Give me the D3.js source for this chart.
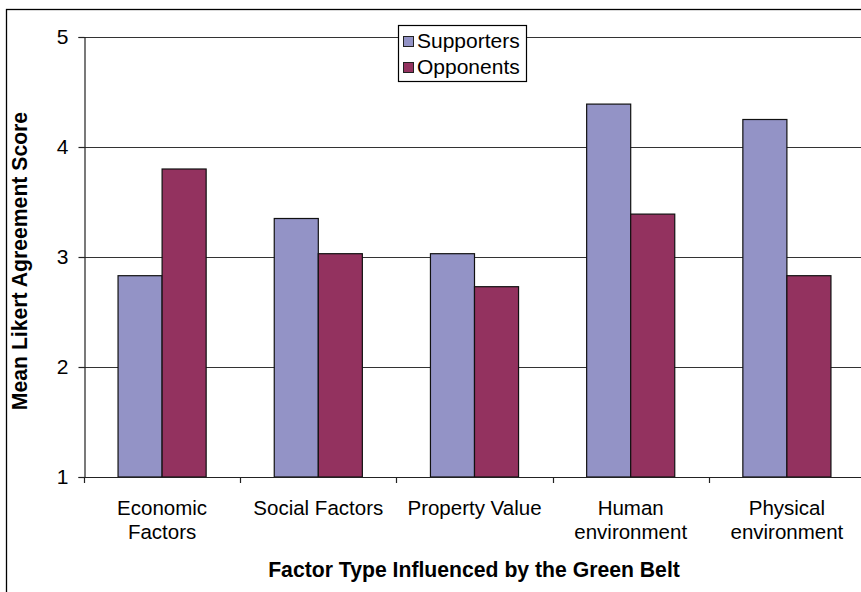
<!DOCTYPE html>
<html>
<head>
<meta charset="utf-8">
<script src="https://cdn.jsdelivr.net/npm/d3@7"></script>
<style>
  html, body { margin: 0; padding: 0; background: #fff; }
  svg { display: block; font-family: Arial, "Liberation Sans", sans-serif; }
</style>
</head>
<body>
<svg id="chart" width="861" height="592"></svg>
<script>
// Factor categories (x axis) and the two groups' mean scores
const categories = [["Economic", "Factors"], ["Social Factors"], ["Property Value"], ["Human", "environment"], ["Physical", "environment"]];
const supporters = [2.83, 3.35, 3.03, 4.39, 4.25];
const opponents  = [3.80, 3.03, 2.73, 3.39, 2.83];
const seriesNames = ["Supporters", "Opponents"];
const seriesColors = ["#9393C6", "#93325F"];
const yTicks = [1, 2, 3, 4, 5];

const svg = d3.select("#chart");
const margin = { left: 84, right: -4, top: 37, bottom: 115 };
const W = 861, H = 592;
const x0 = margin.left, x1 = W - margin.right;
const yTop = margin.top, yBot = H - margin.bottom;
const FONT = "Arial, 'Liberation Sans', sans-serif";

// Outer chart border
svg.append("rect")
  .attr("x", 6.5).attr("y", 9.5)
  .attr("width", W + 10).attr("height", H + 10)
  .attr("fill", "none").attr("stroke", "#000").attr("stroke-width", 1.3);

const x = d3.scaleBand().domain(d3.range(categories.length)).range([x0, x1]).padding(0);
const y = d3.scaleLinear().domain([1, 5]).range([yBot, yTop]);
const inner = d3.scaleBand().domain([0, 1]).range([0, x.bandwidth()]).paddingInner(0).paddingOuter(0.773);

// Horizontal gridlines
svg.append("g").selectAll("line")
  .data(yTicks.filter(v => v > 1))
  .join("line")
  .attr("x1", x0).attr("x2", x1)
  .attr("y1", d => Math.round(y(d)) + 0.5).attr("y2", d => Math.round(y(d)) + 0.5)
  .attr("stroke", "#333").attr("stroke-width", 1.2);

// Bars
const data = categories.map((c, i) => [supporters[i], opponents[i]]);
const groups = svg.append("g").selectAll("g")
  .data(data).join("g")
  .attr("transform", (d, i) => `translate(${x(i)},0)`);
groups.selectAll("rect")
  .data(d => d.map((v, s) => ({ v, s })))
  .join("rect")
  .attr("x", d => inner(d.s))
  .attr("width", inner.bandwidth())
  .attr("y", d => y(d.v))
  .attr("height", d => y(1) - y(d.v))
  .attr("fill", d => seriesColors[d.s])
  .attr("stroke", "#111").attr("stroke-width", 1.2);

// Y axis
const yAxis = d3.axisLeft(y).tickValues(yTicks).tickFormat(d3.format("d")).tickSize(6).tickPadding(10);
const gy = svg.append("g").attr("transform", `translate(${x0 + 0.5},0)`).call(yAxis);
gy.attr("font-size", null).attr("font-family", null);
gy.select(".domain").attr("stroke", "#222").attr("stroke-width", 1.2);
gy.selectAll(".tick line").attr("stroke", "#222").attr("stroke-width", 1.2);
gy.selectAll(".tick text").style("font-size", "21px").attr("fill", "#000").style("font-family", FONT);

// X axis baseline with ticks between categories
const xTickPos = d3.range(categories.length + 1).map(i => x0 + i * x.bandwidth());
svg.append("line")
  .attr("x1", x0).attr("x2", x1)
  .attr("y1", yBot + 0.5).attr("y2", yBot + 0.5)
  .attr("stroke", "#222").attr("stroke-width", 1.2);
svg.append("g").selectAll("line")
  .data(xTickPos).join("line")
  .attr("x1", d => Math.round(d) + 0.5).attr("x2", d => Math.round(d) + 0.5)
  .attr("y1", yBot).attr("y2", yBot + 6)
  .attr("stroke", "#222").attr("stroke-width", 1.2);

// Category labels
const labels = svg.append("g").selectAll("text")
  .data(categories).join("text")
  .attr("x", (d, i) => x(i) + x.bandwidth() / 2)
  .attr("y", 515)
  .attr("text-anchor", "middle")
  .style("font-size", "20.5px").attr("fill", "#000");
labels.selectAll("tspan")
  .data(d => d).join("tspan")
  .attr("x", function () { return d3.select(this.parentNode).attr("x"); })
  .attr("dy", (d, i) => i === 0 ? 0 : 24)
  .text(d => d);

// Axis titles
svg.append("text")
  .attr("x", 474).attr("y", 577)
  .attr("text-anchor", "middle")
  .style("font-size", "21.2px").attr("font-weight", "bold")
  .text("Factor Type Influenced by the Green Belt");
svg.append("text")
  .attr("transform", "translate(27,261) rotate(-90)")
  .attr("text-anchor", "middle")
  .style("font-size", "21.2px").attr("font-weight", "bold")
  .text("Mean Likert Agreement Score");

// Legend
const lg = svg.append("g").attr("transform", "translate(398,25)");
lg.append("rect").attr("x", 0.5).attr("y", 0.5).attr("width", 128).attr("height", 56)
  .attr("fill", "#fff").attr("stroke", "#000").attr("stroke-width", 1.2);
const items = lg.selectAll("g.item").data(seriesNames).join("g")
  .attr("class", "item")
  .attr("transform", (d, i) => `translate(0,${10 + i * 26})`);
items.append("rect")
  .attr("x", 5.5).attr("y", 1.5).attr("width", 10).attr("height", 10)
  .attr("fill", (d, i) => seriesColors[i]).attr("stroke", "#222").attr("stroke-width", 1);
items.append("text")
  .attr("x", 19).attr("y", 13)
  .style("font-size", "21px").attr("fill", "#000")
  .text(d => d);
</script>
</body>
</html>
